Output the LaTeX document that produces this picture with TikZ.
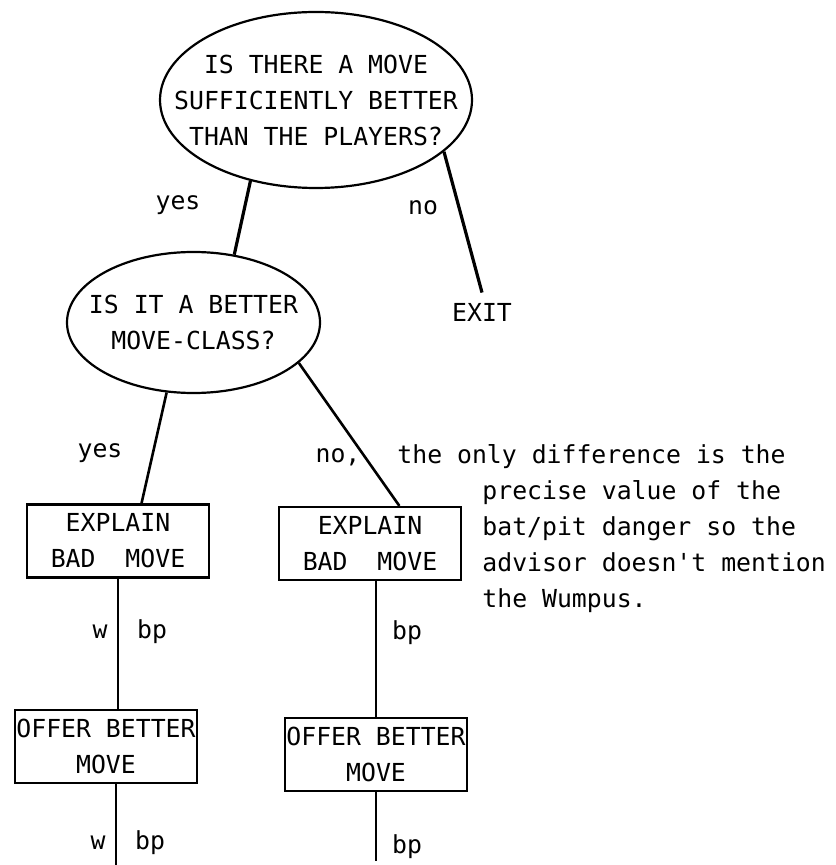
\documentclass[tikz,border=0pt]{standalone}
\usepackage{fontspec}
\setmonofont{DejaVu Sans Mono}
\usetikzlibrary{shapes.geometric}

\begin{document}
\begin{tikzpicture}[
  x=0.5pt, y=-0.5pt,
  every node/.style={font=\ttfamily\fontsize{12.4}{18}\selectfont, inner sep=0pt},
  decision/.style={draw, ellipse, line width=1.1pt, inner xsep=-18pt, align=center},
  action/.style={draw, rectangle, line width=1.1pt, minimum width=91pt,
    minimum height=36.5pt, align=center},
  branch/.style={line width=1.6pt},
  stem/.style={line width=1.1pt}
]
  \useasboundingbox (0,0) rectangle (835,865);

  % questions
  \node[decision, minimum width=156pt, minimum height=88pt] (better) at (316,100)
    {IS THERE A MOVE\\SUFFICIENTLY BETTER\\THAN THE PLAYERS?};
  \node[decision, minimum width=126.5pt, minimum height=70.5pt] (moveclass) at (193.5,322.5)
    {IS IT A BETTER\\MOVE-CLASS?};
  \node[inner ysep=5pt] (exit) at (482,312) {EXIT};

  % actions
  \node[action] (explainL) at (118,541) {EXPLAIN\\BAD~~MOVE};
  \node[action] (explainR) at (370,543.5) {EXPLAIN\\BAD~~MOVE};
  \node[action] (offerL) at (106,746.5) {OFFER BETTER\\MOVE};
  \node[action] (offerR) at (376,754.5) {OFFER BETTER\\MOVE};
  \coordinate (endL) at (116,865);
  \coordinate (endR) at (376,861);

  % branches
  \draw[branch] (better.231) -- (moveclass.59);
  \draw[branch] (better.338) -- (exit.north);
  \draw[branch, line width=1.3pt] (moveclass.249) -- (explainL.58.6);
  \draw[branch, line width=1.3pt] (moveclass.-21) -- (explainR.52.5);
  \draw[stem] (explainL.south) -- (explainL.south |- offerL.north);
  \draw[stem] (offerL.south -| endL) -- (endL);
  \draw[stem] (explainR.south -| offerR.north) -- (offerR.north);
  \draw[stem] (offerR.south) -- (endR);

  % labels
  \node (yesA) at (178,205) {yes};
  \node (noA) at (423,208) {no};
  \node (yesB) at (100,453) {yes};
  \node (noB) at (338,457) {no,};
  \node[anchor=west] (why) at (397,457) {the only difference is the};
  \node[anchor=west, align=left] (whymore) at (482,547)
    {precise value of the\\bat/pit danger so the\\advisor doesn't mention\\the Wumpus.};
  \node (wL1) at (100,632) {w};
  \node (bpL1) at (152,632) {bp};
  \node (wL2) at (98,843) {w};
  \node (bpL2) at (150,843) {bp};
  \node (bpR1) at (407,633) {bp};
  \node (bpR2) at (407,847) {bp};
\end{tikzpicture}
\end{document}
